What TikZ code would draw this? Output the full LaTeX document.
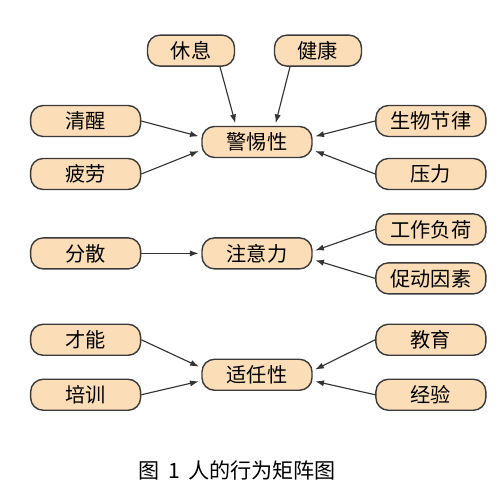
\documentclass[tikz,border=0pt]{standalone}
\usepackage{fontspec}
\newfontfamily\cjk{Noto Sans CJK SC}
\usetikzlibrary{arrows.meta,positioning}
\definecolor{boxfill}{HTML}{FBDDB8}
\definecolor{boxline}{HTML}{3A3A3A}

\begin{document}
\begin{tikzpicture}[x=0.02cm, y=-0.02cm, every node/.style={font=\cjk\fontsize{11.5}{13}\selectfont}, hub/.style={rectangle, rounded corners=0.25cm, draw=boxline, line width=0.8pt, fill=boxfill, align=center, minimum width=2.2cm, minimum height=0.62cm}, side/.style={hub, minimum width=2.2cm}, top/.style={hub, minimum width=1.74cm}, arrow/.style={-{Latex[length=5pt,width=3.5pt]}, line width=0.65pt, draw=boxline!90!black, shorten >=1.5pt}]
\useasboundingbox (0,0) rectangle (500,500);
\node[hub] (jingti) at (257,142) {警惕性};
\node[hub, below=1.58cm of jingti] (zhuyi) {注意力};
\node[hub, below=1.78cm of zhuyi] (shiren) {适任性};
\node[top, above=1.18cm of jingti, xshift=-1.32cm] (xiuxi) {休息};
\node[top, above=1.18cm of jingti, xshift=1.22cm] (jiankang) {健康};
\node[side, left=1.2cm of jingti, yshift=0.42cm] (qingxing) {清醒};
\node[side, left=1.2cm of jingti, yshift=-0.64cm] (pilao) {疲劳};
\node[side, right=1.25cm of jingti, yshift=0.42cm] (shengwu) {生物节律};
\node[side, right=1.25cm of jingti, yshift=-0.64cm] (yali) {压力};
\node[side, left=1.2cm of zhuyi] (fensan) {分散};
\node[side, right=1.25cm of zhuyi, yshift=0.48cm] (gongzuo) {工作负荷};
\node[side, right=1.25cm of zhuyi, yshift=-0.5cm] (cudong) {促动因素};
\node[side, left=1.2cm of shiren, yshift=0.7cm] (caineng) {才能};
\node[side, left=1.2cm of shiren, yshift=-0.4cm] (peixun) {培训};
\node[side, right=1.25cm of shiren, yshift=0.7cm] (jiaoyu) {教育};
\node[side, right=1.25cm of shiren, yshift=-0.4cm] (jingyan) {经验};
\node[font=\cjk\fontsize{12}{14}\selectfont] (caption) at (237,470) {图\hspace{0.45em}1\hspace{0.35em}人的行为矩阵图};
\draw[arrow] ([xshift=0.58cm]xiuxi.south) -- ([xshift=-0.42cm]jingti.north);
\draw[arrow] ([xshift=-0.56cm]jiankang.south) -- ([xshift=0.36cm]jingti.north);
\draw[arrow] (qingxing.east) -- ([yshift=0.1cm]jingti.west);
\draw[arrow] (pilao.east) -- ([yshift=-0.16cm]jingti.west);
\draw[arrow] (shengwu.west) -- ([yshift=0.1cm]jingti.east);
\draw[arrow] (yali.west) -- ([yshift=-0.16cm]jingti.east);
\draw[arrow] (fensan) -- (zhuyi);
\draw[arrow] (gongzuo.west) -- ([yshift=0.04cm]zhuyi.east);
\draw[arrow] (cudong.west) -- ([yshift=-0.12cm]zhuyi.east);
\draw[arrow] (caineng.east) -- ([yshift=0.14cm]shiren.west);
\draw[arrow] (peixun.east) -- ([yshift=-0.12cm]shiren.west);
\draw[arrow] (jiaoyu.west) -- ([yshift=0.08cm]shiren.east);
\draw[arrow] (jingyan.west) -- ([yshift=-0.12cm]shiren.east);
\end{tikzpicture}
\end{document}
